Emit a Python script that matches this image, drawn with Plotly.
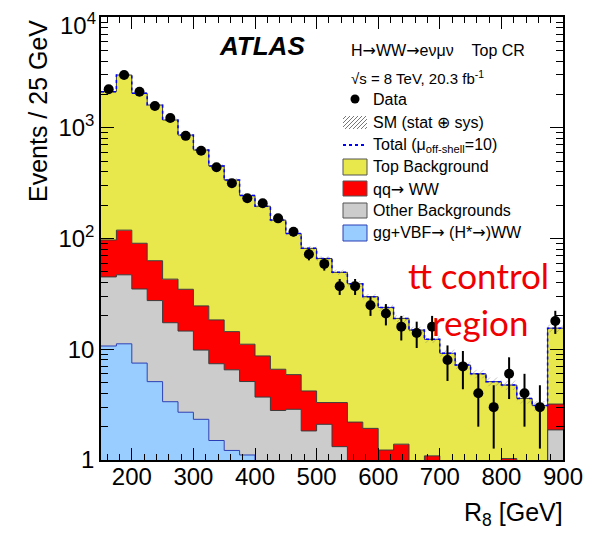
import numpy as np
import plotly.graph_objects as go

# ---- data ----
bin_edges = list(range(150, 901, 25))  # 30 bins of 25 GeV
data = [2224, 2994, 2117, 1572, 1225, 845, 621, 440, 315, 231, 208, 152, 115, 72, 59,
        37, 37, 25, 21, 16, 14, 16, 8, 7, 4, 3, 6, 4, 3, 18]
sig_ggvbf = [10.7, 11.2, 7.5, 5.1, 3.36, 2.7, 2.33, 1.5, 1.22, 1.11, 0.9, 0.75, 0.6, 0.5, 0.4,
             0.35, 0.3, 0.25, 0.2, 0.2, 0.15, 0.15, 0.12, 0.1, 0.1, 0.08, 0.08, 0.07, 0.06, 0.4]
other_bkg = [34.3, 35.8, 27.5, 22.4, 14.0, 11.9, 7.5, 5.9, 5.3, 4.0, 2.8, 2.05, 2.27, 1.33, 1.7,
             0.97, 0.6, 0.6, 0.6, 0.5, 0.45, 0.4, 0.38, 0.35, 0.3, 0.27, 0.27, 0.23, 0.24, 1.47]
qq_ww = [52, 72, 55.6, 35.5, 25.6, 20.2, 14.8, 11.0, 7.9, 6.0, 5.0, 3.8, 3.03, 2.37, 1.2,
         1.98, 1.3, 1.08, 0.43, 0.69, 0.35, 0.54, 0.4, 0.4, 0.4, 0.45, 0.68, 0.4, 0.3, 1.33]
top_bkg = [2020, 2875, 1956, 1541, 1132, 824, 605, 433, 323, 234, 187, 140, 105, 77.3, 62.7,
           46.2, 36.8, 27.9, 22.6, 17.6, 13.95, 11.2, 8.3, 6.35, 5.2, 4.3, 3.72, 2.9, 2.5, 12.3]
sm_rel_unc = [0.03, 0.03, 0.03, 0.03, 0.03, 0.03, 0.035, 0.035, 0.04, 0.04, 0.04, 0.045, 0.05, 0.05, 0.05,
              0.055, 0.06, 0.06, 0.065, 0.07, 0.07, 0.075, 0.08, 0.08, 0.09, 0.09, 0.1, 0.1, 0.1, 0.08]

x_ticks = [200, 300, 400, 500, 600, 700, 800, 900]
y_ticks = [1, 10, 100, 1000, 10000]
y_ticktext = ["1", "10", "10<sup>2</sup>", "10<sup>3</sup>", ""]
y_top_label = "10<sup>4</sup>"

# ---- derived ----
edges = np.array(bin_edges, dtype=float)
centers = 0.5 * (edges[:-1] + edges[1:])
c_blue = np.array(sig_ggvbf)
c_gray = c_blue + np.array(other_bkg)
c_red = c_gray + np.array(qq_ww)
c_total = c_red + np.array(top_bkg)
unc = np.array(sm_rel_unc)


def step(v):
    v = np.asarray(v, dtype=float)
    return np.append(v, v[-1])


FONT = "Liberation Sans, Arial, Helvetica, sans-serif"
ARR = '<span style="font-family:DejaVu Sans">\u2192</span>'
fig = go.Figure()

# baseline (below axis range)
fig.add_trace(go.Scatter(x=edges, y=step(np.full(len(centers), 0.01)), mode="lines",
                         line=dict(width=0, shape="hv"), hoverinfo="skip"))
layers = [
    (c_blue, "#99ccff", "#2a3fb5"),
    (c_gray, "#cccccc", "#3a3a3a"),
    (c_red, "#ff0000", "#3a3a3a"),
    (c_total, "#e8e84c", "#3a3a3a"),
]
for vals, fc, lc in layers:
    fig.add_trace(go.Scatter(x=edges, y=step(vals), mode="lines", fill="tonexty",
                             fillcolor=fc, line=dict(color=lc, width=1, shape="hv"),
                             hoverinfo="skip"))

# SM uncertainty band (hatched)
fig.add_trace(go.Scatter(x=edges, y=step(c_total * (1 - unc)), mode="lines",
                         line=dict(width=0, shape="hv"), hoverinfo="skip"))
fig.add_trace(go.Scatter(x=edges, y=step(c_total * (1 + unc)), mode="lines",
                         line=dict(width=0, shape="hv"), fill="tonexty",
                         fillcolor="rgba(0,0,0,0)",
                         fillpattern=dict(shape="/", fgcolor="#666666", bgcolor="rgba(0,0,0,0)",
                                          size=5, solidity=0.15),
                         hoverinfo="skip"))
# Total (mu=10) dashed
fig.add_trace(go.Scatter(x=edges, y=step(c_total), mode="lines",
                         line=dict(color="#0000ff", width=1.5, dash="dot", shape="hv"),
                         hoverinfo="skip"))
# data
fig.add_trace(go.Scatter(x=centers, y=data, mode="markers",
                         marker=dict(color="black", size=10),
                         error_y=dict(type="data", array=np.sqrt(np.array(data, float)),
                                      width=0, thickness=2, color="black")))

# ---- geometry: page body has an 8px margin, so work in page pixels and shift ----
OFF = 8
W, H = 595, 537
L, R, T, B = 101 - OFF, 563 - OFF, 17 - OFF, 460 - OFF


def px(x):
    return (x - OFF - L) / (R - L)


def py(y):
    return (B - (y - OFF)) / (B - T)


shapes = []
ann = []

# legend boxes
boxes = [
    (159, 175, "#e8e84c", "#555555", "Top Background", 167),
    (181, 196, "#ff0000", "#555555", "qq" + ARR + " WW", 189),
    (203, 218, "#cccccc", "#555555", "Other Backgrounds", 210.5),
    (225, 241, "#99ccff", "#2a3fb5", "gg+VBF" + ARR + " (H*" + ARR + ")WW", 232.5),
]
for y0, y1, fc, lc, txt, yc in boxes:
    shapes.append(dict(type="rect", xref="paper", yref="paper", x0=px(343), x1=px(367),
                       y0=py(y1), y1=py(y0), fillcolor=fc, line=dict(color=lc, width=1)))
    ann.append(dict(text=txt, x=px(371), y=py(yc), xanchor="left", yanchor="middle"))

# data legend
shapes.append(dict(type="circle", xref="paper", yref="paper", x0=px(350.5), x1=px(359.5),
                   y0=py(103.5), y1=py(94.5), fillcolor="black", line=dict(color="black", width=0)))
ann.append(dict(text="Data", x=px(371), y=py(99.5), xanchor="left", yanchor="middle"))

# hatch legend
hx0, hx1, hy0, hy1 = 343, 367, 116, 129
for k in range(-14, 26, 4):
    xa, ya, xb, yb = hx0 + k, hy1, hx0 + k + (hy1 - hy0), hy0
    if xa < hx0:
        ya = ya - (hx0 - xa)
        xa = hx0
    if xb > hx1:
        yb = yb + (xb - hx1)
        xb = hx1
    if xb <= xa:
        continue
    shapes.append(dict(type="line", xref="paper", yref="paper", x0=px(xa), y0=py(ya),
                       x1=px(xb), y1=py(yb), line=dict(color="#777777", width=1)))
ann.append(dict(text="SM (stat \u2295 sys)", x=px(371), y=py(122), xanchor="left", yanchor="middle"))

# total legend
shapes.append(dict(type="line", xref="paper", yref="paper", x0=px(343), x1=px(367),
                   y0=py(145), y1=py(145), line=dict(color="#0000ff", width=2, dash="dot")))
ann.append(dict(text="Total (\u03bc<sub>off-shell</sub>=10)", x=px(371), y=py(145),
                xanchor="left", yanchor="middle"))

ann.append(dict(text="H" + ARR + "WW" + ARR + "e\u03bd\u03bc\u03bd    Top CR", x=px(349), y=py(50),
                xanchor="left", yanchor="middle"))
ann.append(dict(text="\u221as = 8 TeV, 20.3 fb<sup>-1</sup>", x=px(349), y=py(78),
                xanchor="left", yanchor="middle", font=dict(size=15, family=FONT, color="black")))

for a in ann:
    a.setdefault("font", dict(size=16, family=FONT, color="black"))
    a.update(xref="paper", yref="paper", showarrow=False)

# top y tick label, pushed down inside the page like ROOT does
ann.append(dict(text=y_top_label, x=px(98), y=py(41), xref="paper", yref="paper",
                showarrow=False, xanchor="right", yanchor="bottom",
                font=dict(size=24, family=FONT, color="black")))
ann.append(dict(text="<b><i>ATLAS</i></b>", x=px(262), y=py(46), xref="paper", yref="paper",
                showarrow=False, xanchor="center", yanchor="middle",
                font=dict(size=26, family=FONT, color="black")))
ann.append(dict(text="tt control", x=px(478), y=py(275), xref="paper", yref="paper",
                showarrow=False, xanchor="center", yanchor="middle",
                font=dict(size=35, family="Lato, Open Sans, sans-serif", color="#ee0000")))
ann.append(dict(text="region", x=px(480), y=py(322), xref="paper", yref="paper",
                showarrow=False, xanchor="center", yanchor="middle",
                font=dict(size=35, family="Lato, Open Sans, sans-serif", color="#ee0000")))
ann.append(dict(text="Events / 25 GeV", x=px(38), y=py(18), xref="paper", yref="paper",
                showarrow=False, xanchor="center", yanchor="top", textangle=-90,
                font=dict(size=25, family=FONT, color="black")))
ann.append(dict(text="R<sub>8</sub> [GeV]", x=px(565), y=py(514), xref="paper", yref="paper",
                showarrow=False, xanchor="right", yanchor="middle",
                font=dict(size=25, family=FONT, color="black")))

minor_y = [m * 10 ** d for d in range(0, 4) for m in range(2, 10)]

fig.update_layout(
    width=W, height=H,
    margin=dict(l=L, r=W - R, t=T, b=H - B, autoexpand=False),
    plot_bgcolor="white", paper_bgcolor="white",
    showlegend=False,
    shapes=shapes, annotations=ann,
    font=dict(family=FONT, color="black"),
    xaxis=dict(range=[150, 900], tickvals=x_ticks, ticks="inside", ticklen=12, tickwidth=1,
               tickcolor="black", mirror="allticks", showline=True, linecolor="black", linewidth=1.5,
               showgrid=False, zeroline=False, automargin=False, ticklabeloverflow="allow",
               ticklabelstandoff=-6,
               tickfont=dict(size=24, family=FONT, color="black"),
               minor=dict(tickvals=list(range(160, 900, 20)), ticks="inside", ticklen=6,
                          tickcolor="black", showgrid=False)),
    yaxis=dict(type="log", range=[0, 4], tickvals=y_ticks, ticktext=y_ticktext, ticks="inside",
               ticklen=13, tickwidth=1, tickcolor="black", mirror="allticks", showline=True,
               linecolor="black", linewidth=1.5, showgrid=False, zeroline=False, automargin=False,
               ticklabeloverflow="allow",
               tickfont=dict(size=24, family=FONT, color="black"),
               minor=dict(tickvals=minor_y, ticks="inside", ticklen=7, tickcolor="black",
                          showgrid=False)),
)

fig.write_html("out.html")
